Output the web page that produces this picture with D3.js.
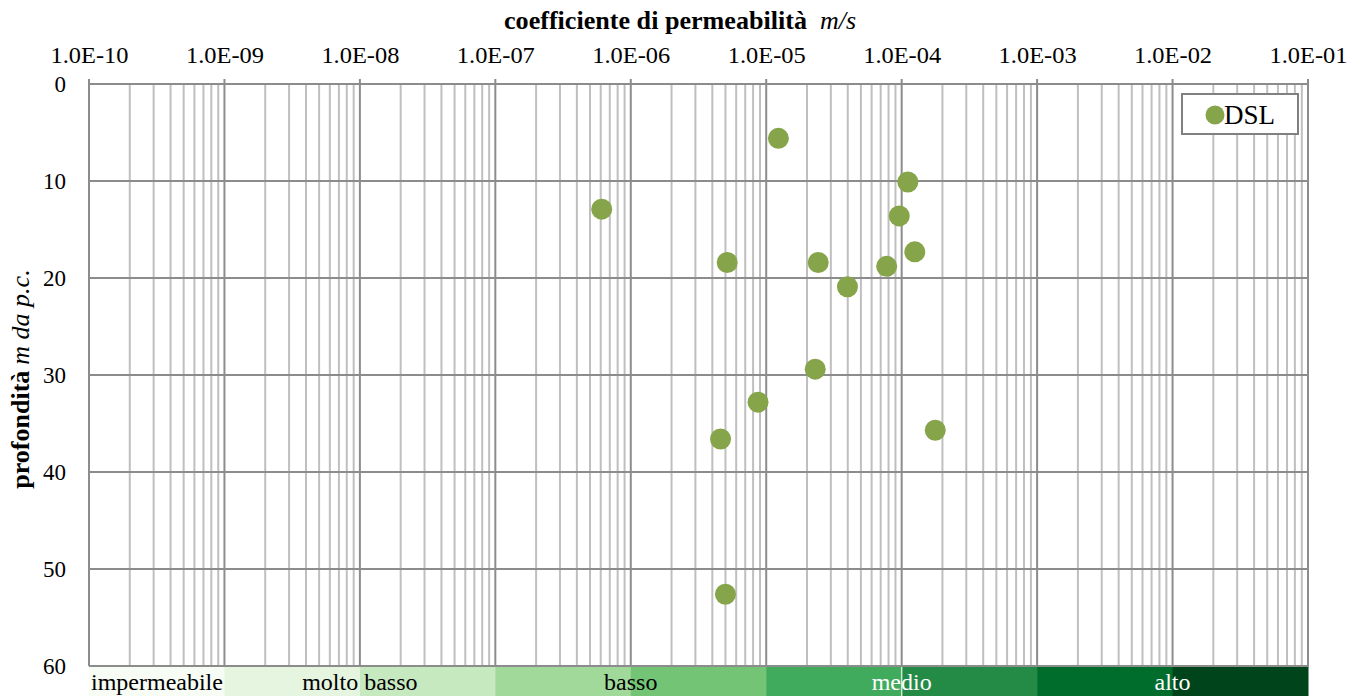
<!DOCTYPE html>
<html><head><meta charset="utf-8">
<script src="https://cdn.jsdelivr.net/npm/d3@7"></script>
<style>
html,body{margin:0;padding:0;background:#fff;}
svg{display:block;font-family:"Liberation Serif","Times New Roman",serif;}
</style></head>
<body>
<svg id="chart" width="1360" height="696"></svg>
<script>
// ---- data ----
const permeability = [1.23e-5, 1.11e-4, 6.1e-7, 9.6e-5, 1.25e-4, 5.15e-6, 2.42e-5, 7.75e-5, 3.98e-5, 2.3e-5, 8.7e-6, 4.6e-6, 1.77e-4, 5.0e-6];
const depth        = [5.6, 10.1, 12.9, 13.6, 17.3, 18.4, 18.4, 18.8, 20.9, 29.4, 32.8, 36.6, 35.7, 52.6];
const xTickValues  = [1e-10, 1e-9, 1e-8, 1e-7, 1e-6, 1e-5, 1e-4, 1e-3, 1e-2, 1e-1];
const xTickLabels  = ["1.0E-10","1.0E-09","1.0E-08","1.0E-07","1.0E-06","1.0E-05","1.0E-04","1.0E-03","1.0E-02","1.0E-01"];
const yTickValues  = [0, 10, 20, 30, 40, 50, 60];
const bandColors   = ["#f7fcf5","#e5f5e0","#c7e9c0","#a1d99b","#74c476","#41ab5d","#238b45","#006d2c","#00441b"];
const classLabels  = ["impermeabile","molto basso","basso","medio","alto"];
const classAnchorK = [1e-10, 1e-8, 1e-6, 1e-4, 1e-2];
const classTextCol = ["#000","#000","#000","#fff","#fff"];
const seriesName   = "DSL";

// ---- layout ----
const svg = d3.select("#chart");
const L = 89, R = 1308, T = 84, B = 666;
const x = d3.scaleLog().domain([1e-10, 1e-1]).range([L, R]);
const y = d3.scaleLinear().domain([0, 60]).range([T, B]);
const dotColor = "#86a44a";
const serif = "Liberation Serif, Times New Roman, serif";

// class bands
const decades = d3.range(bandColors.length).map(i => [xTickValues[i], xTickValues[i+1]]);
svg.append("g").selectAll("rect").data(decades).join("rect")
  .attr("x", d => x(d[0])).attr("width", d => x(d[1]) - x(d[0]) + 0.5)
  .attr("y", B).attr("height", 696 - B)
  .attr("fill", (d,i) => bandColors[i]);
svg.append("line").attr("x1", x(1e-4)).attr("x2", x(1e-4)).attr("y1", B).attr("y2", 696)
  .attr("stroke", "#cfe8d4").attr("stroke-width", 1.5);

svg.append("g").selectAll("text").data(classLabels).join("text")
  .attr("x", (d,i) => i === 0 ? x(classAnchorK[i]) + 2 : x(classAnchorK[i]))
  .attr("y", 690)
  .attr("text-anchor", (d,i) => i === 0 ? "start" : "middle")
  .attr("font-size", 24)
  .attr("font-family", serif)
  .attr("fill", (d,i) => classTextCol[i])
  .text(d => d);

// minor vertical gridlines
const minor = [];
for (let e = -10; e < -1; e++) for (let m = 2; m <= 9; m++) minor.push(m * Math.pow(10, e));
svg.append("g").selectAll("line").data(minor).join("line")
  .attr("x1", d => x(d)).attr("x2", d => x(d)).attr("y1", T).attr("y2", B)
  .attr("stroke", "#bfbfbf").attr("stroke-width", 2);

// horizontal gridlines
svg.append("g").selectAll("line").data(yTickValues).join("line")
  .attr("x1", L).attr("x2", R).attr("y1", d => y(d)).attr("y2", d => y(d))
  .attr("stroke", "#8c8c8c").attr("stroke-width", 2);

// major vertical gridlines
svg.append("g").selectAll("line").data(xTickValues).join("line")
  .attr("x1", d => x(d)).attr("x2", d => x(d)).attr("y1", T - 5).attr("y2", B)
  .attr("stroke", "#8c8c8c").attr("stroke-width", 2);

// top axis
const xAxis = d3.axisTop(x).tickValues(xTickValues)
  .tickFormat((d,i) => xTickLabels[i]).tickSize(0).tickPadding(21);
const gx = svg.append("g").attr("transform", `translate(0,${T})`).call(xAxis);
gx.select(".domain").remove();
gx.selectAll("text").attr("font-size", 23).attr("fill", "#000")
  .attr("font-family", serif)
  .attr("textLength", 78).attr("lengthAdjust", "spacingAndGlyphs");

// left axis
const yAxis = d3.axisLeft(y).tickValues(yTickValues).tickSize(0).tickPadding(23);
const gy = svg.append("g").attr("transform", `translate(${L},0)`).call(yAxis);
gy.select(".domain").remove();
gy.selectAll("text").attr("font-size", 23).attr("fill", "#000")
  .attr("font-family", serif);

// axis titles
const xt = svg.append("text").attr("x", 504).attr("y", 29).attr("text-anchor", "start")
  .attr("font-size", 26).attr("font-family", serif);
xt.append("tspan").attr("font-weight", "bold")
  .attr("textLength", 303).attr("lengthAdjust", "spacingAndGlyphs")
  .text("coefficiente di permeabilità");
xt.append("tspan").attr("font-style", "italic").attr("x", 820).text("m/s");

const yt = svg.append("text").attr("transform", `translate(29,379) rotate(-90)`)
  .attr("text-anchor", "middle").attr("font-size", 26).attr("font-family", serif);
yt.append("tspan").attr("font-weight", "bold").text("profondità");
yt.append("tspan").attr("font-style", "italic").attr("dx", 6).text("m da p.c.");

// points
const pts = permeability.map((k, i) => ({k, d: depth[i]}));
svg.append("g").selectAll("circle").data(pts).join("circle")
  .attr("cx", p => x(p.k)).attr("cy", p => y(p.d)).attr("r", 10.5)
  .attr("fill", dotColor);

// legend
const lg = svg.append("g");
lg.append("rect").attr("x", 1182).attr("y", 94).attr("width", 116).attr("height", 40)
  .attr("fill", "#fff").attr("stroke", "#808080").attr("stroke-width", 2);
lg.append("circle").attr("cx", 1215).attr("cy", 115).attr("r", 9.5).attr("fill", dotColor);
lg.append("text").attr("x", 1224).attr("y", 124).attr("font-size", 27)
  .attr("font-family", serif).attr("fill", "#000").text(seriesName);
</script>
</body></html>
